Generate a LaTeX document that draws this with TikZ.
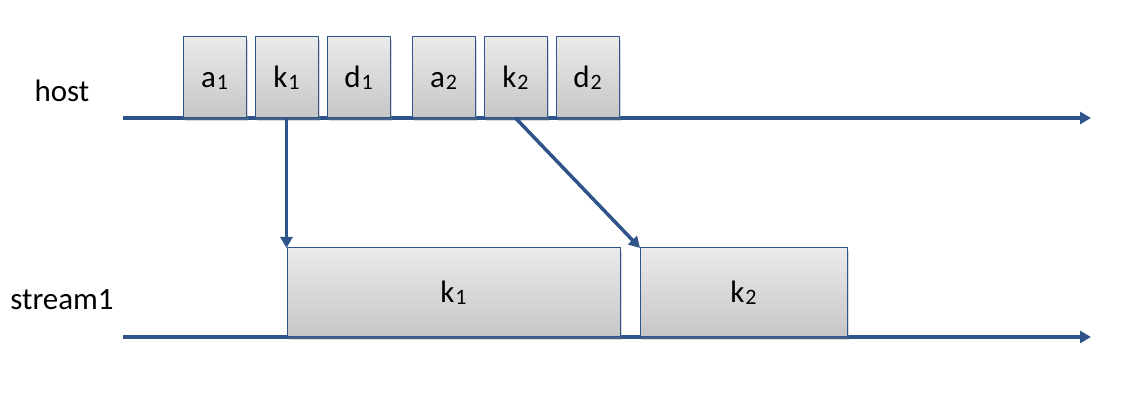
\documentclass[tikz,border=0pt]{standalone}
\usepackage{fontspec}
\setmainfont{Carlito}
\usetikzlibrary{arrows.meta,shadows}
\definecolor{lineblue}{RGB}{46,84,138}
\definecolor{boxtop}{RGB}{234,234,234}
\definecolor{boxbot}{RGB}{198,198,198}
% index set slightly smaller and just below the baseline
\newcommand\lowidx[1]{\kern1pt\raisebox{-2pt}{\fontsize{22}{24}\selectfont #1}}
\tikzset{
  timeline/.style={draw=lineblue, line width=3.5pt, -{Triangle[length=11pt,width=12pt]}},
  msg/.style={draw=lineblue, line width=3.5pt, -{Triangle[length=11pt,width=12pt]}},
  opbox/.style={draw=lineblue, line width=1pt, top color=boxtop, bottom color=boxbot,
    inner sep=0pt, outer sep=0pt, anchor=south west,
    font=\fontsize{31}{36}\selectfont,
    drop shadow={opacity=0.3, shadow xshift=2pt, shadow yshift=-3pt}},
  hostbox/.style={opbox, minimum width=63pt, minimum height=81pt, text height=20pt, text depth=-23pt},
  streambox/.style={opbox, minimum height=89pt, text height=20pt, text depth=-2pt},
  lanelabel/.style={font=\fontsize{31}{36}\selectfont, anchor=base}
}
\begin{document}
\begin{tikzpicture}[x=1pt,y=-1pt]
\useasboundingbox (0,0) rectangle (1128,419);

% lane names
\node[lanelabel] (hostlbl) at (62,102) {host};
\node[lanelabel] (streamlbl) at (62,310) {stream1};

% time axes
\coordinate (hs) at (123,118);
\coordinate (he) at (1091,118);
\coordinate (ss) at (123,337);
\coordinate (se) at (1091,337);
\draw[timeline] (hs) -- (he);
\draw[timeline] (ss) -- (se);

% host operations
\node[hostbox] (a1) at (183,118) {a\lowidx{1}};
\node[hostbox] (k1) at (255,118) {k\lowidx{1}};
\node[hostbox] (d1) at (327,118) {d\lowidx{1}};
\node[hostbox] (a2) at (412,118) {a\lowidx{2}};
\node[hostbox] (k2) at (484,118) {k\lowidx{2}};
\node[hostbox] (d2) at (556,118) {d\lowidx{2}};

% kernels on the stream
\node[streambox, minimum width=333pt] (sk1) at (287,337) {k\lowidx{1}};
\node[streambox, minimum width=207pt] (sk2) at (640,337) {k\lowidx{2}};

% launches
\draw[msg] (k1.south) -- (k1.south |- sk1.north);
\draw[msg] (k2.south) -- (sk2.north west);
\end{tikzpicture}
\end{document}
